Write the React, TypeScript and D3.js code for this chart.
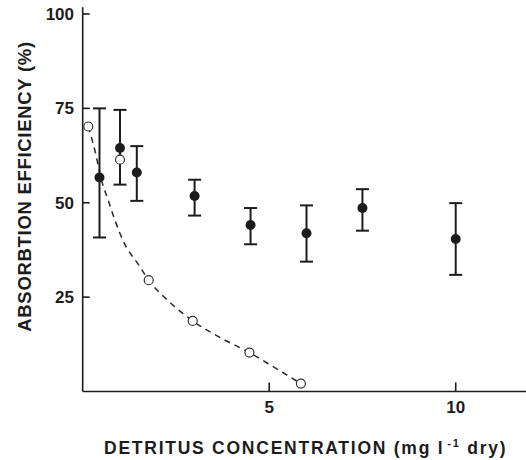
import React from "react";
import * as d3 from "d3";

const meanX = [0.45, 1.0, 1.45, 3.0, 4.5, 6.0, 7.5, 10.0];
const meanY = [56.7, 64.5, 58.0, 51.8, 44.1, 41.9, 48.6, 40.4];
const errTop = [75.0, 74.6, 65.0, 56.1, 48.6, 49.3, 53.6, 49.9];
const errBottom = [40.8, 54.8, 50.5, 46.6, 39.0, 34.4, 42.6, 30.9];

const openX = [0.15, 1.0, 1.77, 2.95, 4.47, 5.85];
const openY = [70.2, 61.4, 29.5, 18.7, 10.3, 2.1];

const curveX = [0.15, 0.33, 0.51, 0.69, 0.87, 1.13, 1.49, 1.77, 2.35, 2.95, 3.7, 4.47, 5.15, 5.85];
const curveY = [70.2, 63.7, 55.8, 50.5, 45.2, 39.0, 33.7, 29.5, 23.5, 18.7, 14.2, 10.3, 6.3, 2.1];

const yTicks = [25, 50, 75, 100];
const xTicks = [5, 10];

const xTitle = "DETRITUS CONCENTRATION (mg l";
const xTitleSup = "-1";
const xTitleEnd = " dry)";
const yTitle = "ABSORBTION EFFICIENCY (%)";

const W = 526;
const H = 460;
const ink = "#1c1c1c";
const font = "'Liberation Sans', Arial, Helvetica, sans-serif";

export default function App() {
  const x = d3.scaleLinear().domain([0, 12]).range([82.7, 530.3]);
  const y = d3.scaleLinear().domain([0, 100]).range([391.5, 14]);

  const line = d3
    .line<number>()
    .x((_, i) => x(curveX[i]))
    .y((_, i) => y(curveY[i]))
    .curve(d3.curveMonotoneX);

  const x0 = x(0);
  const y0 = y(0);

  return (
    <svg
      width={W}
      height={H}
      style={{ position: "absolute", left: 0, top: 0, background: "#fff" }}
      fontFamily={font}
    >
      <rect width={W} height={H} fill="#fff" />
      {/* axes */}
      <line x1={x0} x2={W} y1={y0} y2={y0} stroke={ink} strokeWidth={1.6} />
      <line x1={x0} x2={x0} y1={y0} y2={y(101.8)} stroke={ink} strokeWidth={1.6} />
      {yTicks.map((t) => (
        <g key={"y" + t}>
          <line x1={x0} x2={x0 + 7} y1={y(t)} y2={y(t)} stroke={ink} strokeWidth={1.6} />
          <text
            x={74}
            y={y(t)}
            dy="0.36em"
            textAnchor="end"
            fontSize={17}
            fontWeight="bold"
            fill={ink}
          >
            {t}
          </text>
        </g>
      ))}
      {xTicks.map((t) => (
        <g key={"x" + t}>
          <line x1={x(t)} x2={x(t)} y1={y0} y2={y0 - 9} stroke={ink} strokeWidth={1.6} />
          <text
            x={x(t)}
            y={413}
            textAnchor="middle"
            fontSize={17}
            fontWeight="bold"
            fill={ink}
          >
            {t}
          </text>
        </g>
      ))}
      {/* titles */}
      <text
        x={104}
        y={454}
        fontSize={17.5}
        fontWeight="bold"
        fill={ink}
        letterSpacing={1.75}
      >
        {xTitle}
        <tspan dx={3} dy={-7} fontSize={11}>
          {xTitleSup}
        </tspan>
        <tspan dy={7}>{xTitleEnd}</tspan>
      </text>
      <text
        transform={`translate(31,186.5) rotate(-90)`}
        textAnchor="middle"
        fontSize={18.5}
        fontWeight="bold"
        fill={ink}
        letterSpacing={0.7}
      >
        {yTitle}
      </text>
      {/* dashed fitted curve */}
      <path
        d={line(curveX) || ""}
        fill="none"
        stroke="#2a2a2a"
        strokeWidth={1.5}
        strokeDasharray="6,5"
      />
      {/* error bars */}
      {meanX.map((v, i) => (
        <g key={"e" + i} stroke={ink} strokeWidth={2}>
          <line x1={x(v)} x2={x(v)} y1={y(errTop[i])} y2={y(errBottom[i])} />
          <line x1={x(v) - 6.5} x2={x(v) + 6.5} y1={y(errTop[i])} y2={y(errTop[i])} />
          <line x1={x(v) - 6.5} x2={x(v) + 6.5} y1={y(errBottom[i])} y2={y(errBottom[i])} />
        </g>
      ))}
      {/* open circles */}
      {openX.map((v, i) => (
        <circle
          key={"o" + i}
          cx={x(v)}
          cy={y(openY[i])}
          r={4.5}
          fill="#fff"
          stroke="#333"
          strokeWidth={1.2}
        />
      ))}
      {/* filled circles */}
      {meanX.map((v, i) => (
        <circle key={"f" + i} cx={x(v)} cy={y(meanY[i])} r={5} fill={ink} />
      ))}
    </svg>
  );
}
